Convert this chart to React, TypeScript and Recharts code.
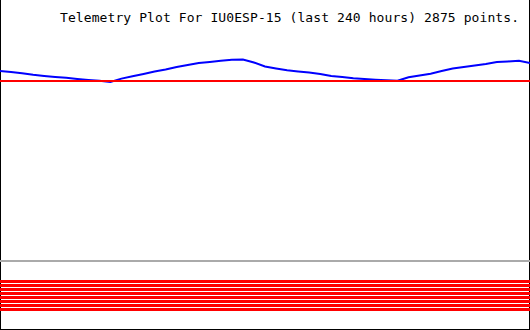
import { LineChart, Line, XAxis, YAxis, Customized } from "recharts";

// hours before now, one reading every 5 h
const hours = [
  -240, -235, -230, -225, -220, -215, -210, -205, -200, -195, -190, -185, -180,
  -175, -170, -165, -160, -155, -150, -145, -140, -135, -130, -125, -120, -115,
  -110, -105, -100, -95, -90, -85, -80, -75, -70, -65, -60, -55, -50, -45, -40,
  -35, -30, -25, -20, -15, -10, -5, 0,
];

// telemetry value (raw units)
const readings = [
  259.0, 258.0, 256.8, 255.2, 254.0, 253.0, 252.2, 251.0, 250.0, 249.2, 248.0,
  251.4, 253.7, 256.0, 258.5, 260.5, 263.0, 265.0, 267.0, 268.0, 269.2, 270.2,
  270.5, 267.5, 263.5, 261.5, 259.7, 258.5, 257.5, 256.0, 254.0, 253.0, 251.8,
  251.0, 250.3, 249.7, 249.3, 252.7, 254.5, 256.3, 259.0, 261.5, 263.0, 264.5,
  266.0, 268.0, 268.5, 269.2, 267.0,
];

const limitValue = 249;
const midValue = 69;
const bandValues = [48.5, 44.5, 40.5, 36.5, 32.5, 28.5, 24.5, 20.5];

const title = "Telemetry Plot For IU0ESP-15 (last 240 hours) 2875 points.";

const data = hours.map((h, i) => {
  const row: Record<string, number> = { h, v: readings[i], limit: limitValue, mid: midValue };
  bandValues.forEach((b, j) => {
    row["b" + j] = b;
  });
  return row;
});

const Frame = () => (
  <g>
    <text
      x={60}
      y={22}
      fontFamily="DejaVu Sans Mono"
      fontSize={13}
      textLength={459}
      lengthAdjust="spacing"
      fill="#000"
    >
      {title}
    </text>
    <line x1={0.5} y1={0} x2={0.5} y2={330} stroke="#000" strokeWidth={1} />
    <line x1={529.5} y1={0} x2={529.5} y2={330} stroke="#000" strokeWidth={1} />
    <line x1={0} y1={329.5} x2={530} y2={329.5} stroke="#000" strokeWidth={1} />
  </g>
);

export default function App() {
  return (
    <div style={{ position: "absolute", left: 0, top: 0, width: 530, height: 330, background: "#fff" }}>
      <LineChart width={530} height={330} data={data} margin={{ top: 0, right: 0, bottom: 0, left: 0 }}>
        <XAxis dataKey="h" type="number" domain={[-240, 0]} hide />
        <YAxis type="number" domain={[0, 330]} allowDataOverflow hide />
        <Line dataKey="mid" stroke="#aaaaaa" strokeWidth={2} dot={false} activeDot={false} isAnimationActive={false} />
        {bandValues.map((b, j) => (
          <Line
            key={"b" + j}
            dataKey={"b" + j}
            stroke="#ff0000"
            strokeWidth={3}
            dot={false}
            activeDot={false}
            isAnimationActive={false}
          />
        ))}
        <Line
          type="linear"
          dataKey="v"
          stroke="#0000ff"
          strokeWidth={2}
          dot={false}
          activeDot={false}
          isAnimationActive={false}
        />
        <Line dataKey="limit" stroke="#ff0000" strokeWidth={2} dot={false} activeDot={false} isAnimationActive={false} />
        <Customized component={Frame} />
      </LineChart>
    </div>
  );
}
